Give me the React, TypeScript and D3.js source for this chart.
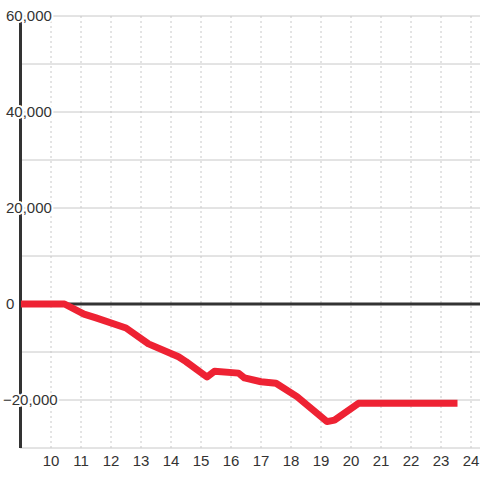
import React from "react";
import * as d3 from "d3";

const hours: number[] = [9, 10.45, 11.1, 11.5, 12.5, 13.25, 14.25, 14.5, 15.2, 15.45, 16.25, 16.45, 17, 17.5, 18.2, 19.2, 19.45, 20.25, 23.55];
const values: number[] = [0, 0, -2100, -2900, -5000, -8300, -11000, -12000, -15200, -14000, -14400, -15400, -16200, -16500, -19300, -24500, -24200, -20700, -20700];
const xTicks: number[] = [10, 11, 12, 13, 14, 15, 16, 17, 18, 19, 20, 21, 22, 23, 24];
const yGrid: number[] = [-30000, -20000, -10000, 0, 10000, 20000, 30000, 40000, 50000, 60000];
const yLabels: number[] = [-20000, 0, 20000, 40000, 60000];

export default function App() {
  const W = 480, H = 480;
  const x = d3.scaleLinear().domain([9, 24.3]).range([21, 480]);
  const y = d3.scaleLinear().domain([-30000, 60000]).range([448, 16]);
  const data = hours.map((h, i) => [h, values[i]] as [number, number]);
  const line = d3.line<[number, number]>().x(d => x(d[0])).y(d => y(d[1]));
  const fmt = d3.format(",");
  const font = "'Liberation Sans', Arial, sans-serif";
  return (
    <svg width={W} height={H} style={{ position: "absolute", left: 0, top: 0, background: "#fff" }}>
      <rect width={W} height={H} fill="#fff" />
      {xTicks.map(t => (
        <line key={"vx" + t} x1={x(t)} x2={x(t)} y1={y(60000)} y2={y(-30000)} stroke="#c8c8c8" strokeWidth={1} strokeDasharray="2,3" />
      ))}
      {yGrid.map(v => (
        <line key={"hy" + v} x1={20} x2={W} y1={y(v)} y2={y(v)} stroke="#c8c8c8" strokeWidth={1} />
      ))}
      <line x1={20.5} x2={20.5} y1={y(60000)} y2={y(-30000)} stroke="#333" strokeWidth={3} />
      {yLabels.map(v => (
        <text key={"yl" + v} x={v < 0 ? 3 : 6} y={y(v)} dy="0.35em" fontFamily={font} fontSize={15} fill="#333"
          stroke="#fff" strokeWidth={4} paintOrder="stroke" strokeLinejoin="round">{fmt(v)}</text>
      ))}
      <line x1={20} x2={W} y1={y(0)} y2={y(0)} stroke="#333" strokeWidth={3} />
      <path d={line(data) || ""} fill="none" stroke="#ee2233" strokeWidth={7} strokeLinejoin="round" strokeLinecap="butt" />
      {xTicks.map(t => (
        <text key={"xl" + t} x={x(t)} y={461} dy="0.35em" textAnchor="middle" fontFamily={font} fontSize={15} fill="#333">{t}</text>
      ))}
    </svg>
  );
}
